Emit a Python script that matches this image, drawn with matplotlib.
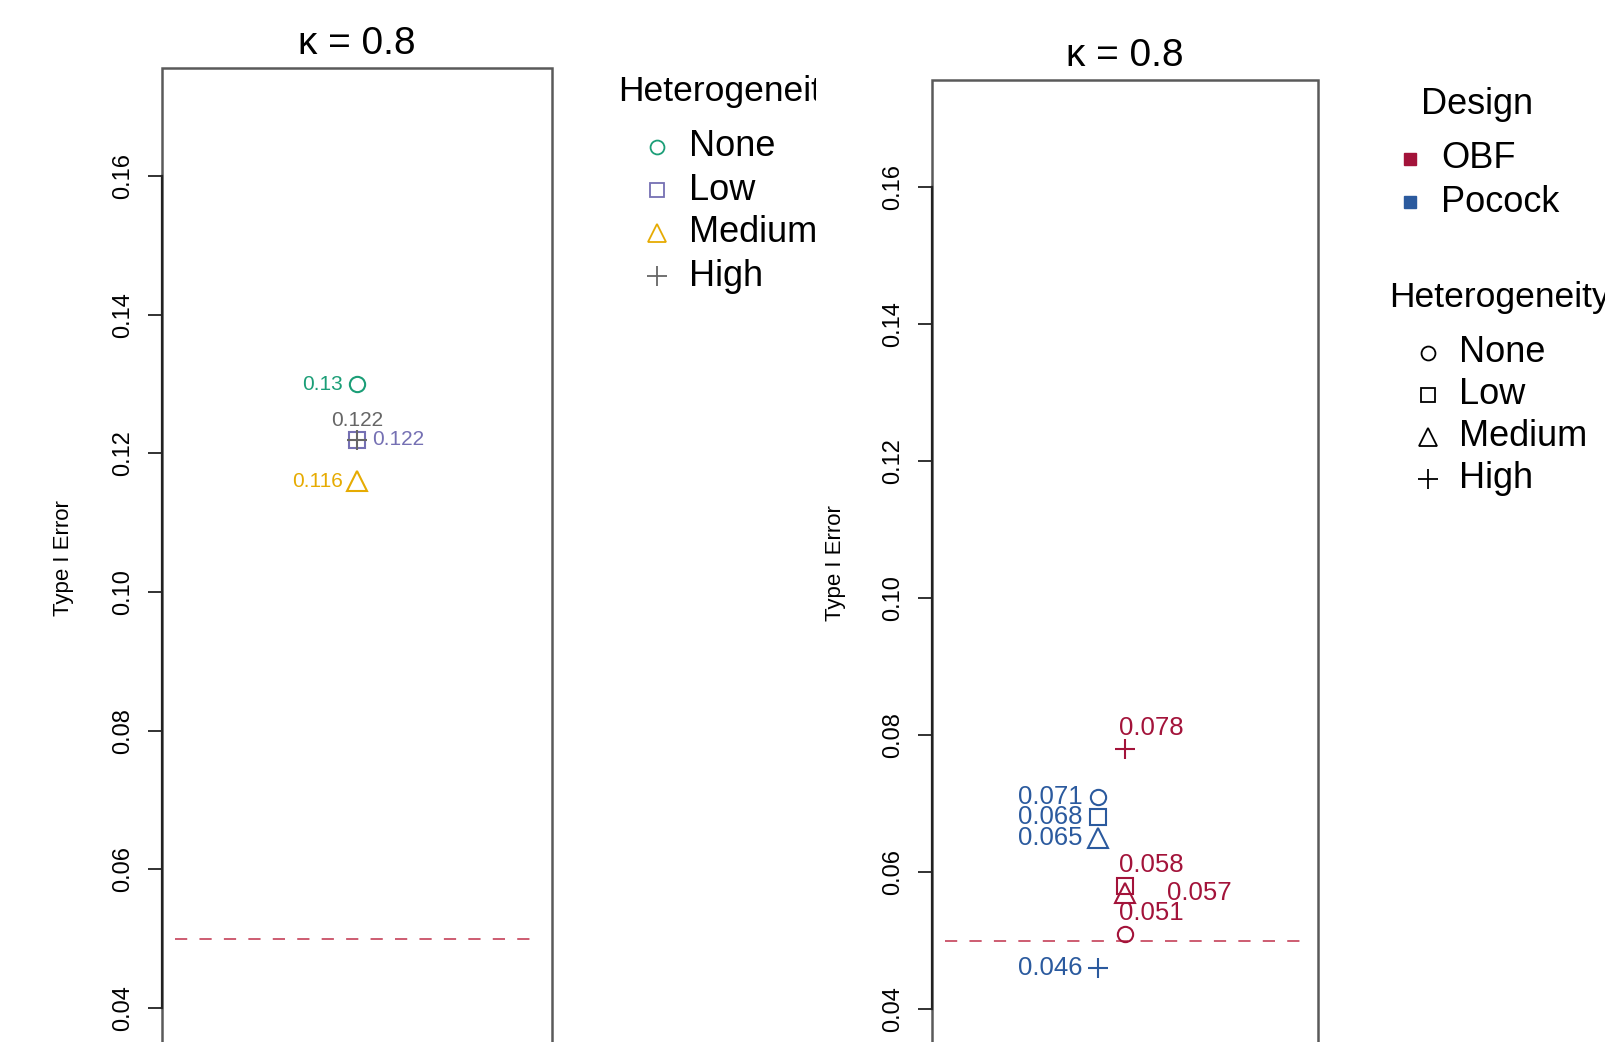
import numpy as np
import matplotlib
matplotlib.use('Agg')
import matplotlib.pyplot as plt
from matplotlib.lines import Line2D
from matplotlib.patches import Rectangle
from matplotlib.transforms import Bbox, TransformedBbox

plt.rcParams['font.family'] = ['Liberation Sans', 'DejaVu Sans']

# dados
niveis = ['None', 'Low', 'Medium', 'High']
marcadores = ['o', 's', '^', '+']
cores_het = ['#1B9E77', '#7570B3', '#E6AB02', '#666666']

erro_esq = [0.130, 0.122, 0.116, 0.122]

desenhos = ['OBF', 'Pocock']
cores_des = ['#A3133A', '#2B5A9E']
x_des = [1.0, 0.93]
erro_obf = [0.051, 0.058, 0.057, 0.078]
erro_pocock = [0.071, 0.068, 0.065, 0.046]

alfa = 0.05
titulo = '\u03ba = 0.8'
yticks = [0.04, 0.06, 0.08, 0.10, 0.12, 0.14, 0.16]
ylim = (0.0244, 0.1756)

W, H = 1606, 1042
fig = plt.figure(figsize=(W / 100, H / 100), dpi=100)

# tamanhos dos marcadores (painel / legenda)
ms_painel = {'o': 11, 's': 11, '^': 14, '+': 15}
ms_leg = {'o': 10, 's': 10, '^': 13, '+': 15}


def px(x, y):
    # pixel (topo-esquerda) -> fracao da figura
    return x / W, 1 - y / H


def montar_eixo(left, right, top, altura, ylab_x, ylab_y):
    ax = fig.add_axes([left / W, 1 - (top + altura) / H, (right - left) / W, altura / H])
    ax.set_xlim(0.5, 1.5)
    ax.set_ylim(*ylim)
    for s in ['top', 'right', 'bottom']:
        ax.spines[s].set_visible(False)
    ax.spines['left'].set_bounds(yticks[0], yticks[-1])
    ax.spines['left'].set_linewidth(1.6)
    ax.spines['left'].set_color('#222222')
    ax.add_patch(Rectangle((0, 0), 1, 1, transform=ax.transAxes, fill=False,
                           ec='#5a5a5a', lw=1.8, clip_on=False, zorder=0))
    ax.set_xticks([])
    ax.set_yticks(yticks)
    ax.set_yticklabels(['%.2f' % t for t in yticks], rotation=90, va='center')
    ax.tick_params(axis='y', length=10, width=1.3, pad=10, labelsize=17, color='#222222')
    ax.set_ylabel('Type I Error', fontsize=16)
    largura = right - left
    ax.yaxis.set_label_coords((ylab_x - left) / largura, 1 - (ylab_y - top) / altura)
    ax.set_title(titulo, fontsize=28, pad=10)
    ax.axhline(alfa, xmin=0.034, xmax=0.966, color='#C0304A', lw=1.1, ls=(0, (8, 8)))
    return ax


mew = 1.5

# painel esquerdo
ax1 = montar_eixo(162, 552, 68, 1048, 74, 558)
off_esq = [(-10, 0, 'right', 'center'), (11, 0, 'left', 'center'),
           (-10, 0, 'right', 'center'), (0, 7, 'center', 'bottom')]
for nome, m, c, v, (dx, dy, ha, va) in zip(niveis, marcadores, cores_het, erro_esq, off_esq):
    ax1.plot([1.0], [v], marker=m, ms=ms_painel[m], mew=mew, mfc='none', mec=c, ls='none')
    ax1.annotate('%g' % v, (1.0, v), xytext=(dx, dy), textcoords='offset points',
                 ha=ha, va=va, color=c, fontsize=15)

# painel direito
ax2 = montar_eixo(932, 1318, 80, 1036, 846, 563)
off_obf = [(-4, 15), (-4, 15), (30, 0), (-4, 15)]
for i, (m, v) in enumerate(zip(marcadores, erro_obf)):
    ax2.plot([x_des[0]], [v], marker=m, ms=ms_painel[m], mew=mew, mfc='none',
             mec=cores_des[0], ls='none')
    ax2.annotate('%g' % v, (x_des[0], v), xytext=off_obf[i], textcoords='offset points',
                 ha='left', va='center', color=cores_des[0], fontsize=18.5)
for m, v in zip(marcadores, erro_pocock):
    ax2.plot([x_des[1]], [v], marker=m, ms=ms_painel[m], mew=mew, mfc='none',
             mec=cores_des[1], ls='none')
    ax2.annotate('%g' % v, (x_des[1], v), xytext=(-11, 0), textcoords='offset points',
                 ha='right', va='center', color=cores_des[1], fontsize=18.5)

# legenda esquerda (cortada na borda da regiao do painel)
clip = TransformedBbox(Bbox([[0, 0], [816 / W, 1]]), fig.transFigure)
t = fig.text(*px(618, 92), 'Heterogeneity', fontsize=25.5, ha='left', va='center')
t.set_clip_box(clip)
t.set_clip_on(True)
for i, (nome, m, c) in enumerate(zip(niveis, marcadores, cores_het)):
    y = 147 + i * 43
    fig.add_artist(Line2D([657 / W], [1 - y / H], transform=fig.transFigure, marker=m,
                          ms=ms_leg[m], mew=1.3, mfc='none', mec=c, ls='none'))
    tt = fig.text(*px(689, y), nome, fontsize=26, ha='left', va='center')
    tt.set_clip_box(clip)
    tt.set_clip_on(True)

# legenda direita
fig.text(*px(1421, 105), 'Design', fontsize=26, ha='left', va='center')
for i, (nome, c) in enumerate(zip(desenhos, cores_des)):
    y = 159 + i * 43
    fig.add_artist(Line2D([1410 / W], [1 - y / H], transform=fig.transFigure, marker='s',
                          ms=9, mfc=c, mec=c, ls='none'))
    fig.text(*px(1441, y), nome, fontsize=26, ha='left', va='center')

fig.text(*px(1389, 298), 'Heterogeneity', fontsize=25.5, ha='left', va='center')
for i, (nome, m) in enumerate(zip(niveis, marcadores)):
    y = 353 + i * 42
    fig.add_artist(Line2D([1428 / W], [1 - y / H], transform=fig.transFigure, marker=m,
                          ms=ms_leg[m], mew=1.3, mfc='none', mec='black', ls='none'))
    fig.text(*px(1459, y), nome, fontsize=26, ha='left', va='center')

fig.savefig('out.png', dpi=100)
